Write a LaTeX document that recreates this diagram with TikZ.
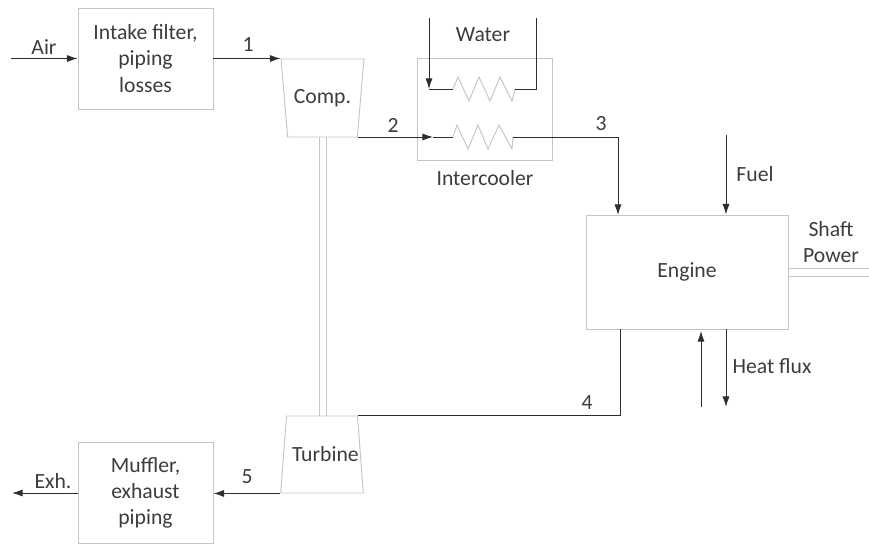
\documentclass[tikz,border=0pt]{standalone}
\usepackage{fontspec}
\usepackage{xcolor}
\usetikzlibrary{positioning,arrows.meta,shapes.geometric,calc}
\setmainfont{Carlito}
\definecolor{boxline}{HTML}{C4C4C4}
\definecolor{flowline}{HTML}{2E2E2E}
\definecolor{labeltext}{HTML}{3C3C3C}
\tikzset{
  unitbox/.style={draw=boxline,line width=0.8pt,align=center,inner sep=0pt,text=labeltext},
  comppart/.style={unitbox,trapezium,trapezium stretches=true,text width=60*0.03cm,minimum width=83*0.03cm,minimum height=78*0.03cm,trapezium left angle=72,trapezium right angle=72},
  flow/.style={draw=flowline,line width=0.8pt},
  flowarrow/.style={flow,-{Latex[length=9pt,width=6pt]}},
  shaftline/.style={draw=boxline,line width=0.8pt},
  lbl/.style={text=labeltext,inner sep=0pt,align=center}
}
\begin{document}
\begin{tikzpicture}[x=0.03cm,y=-0.03cm,font=\fontsize{18.5}{22.5}\selectfont]
  \useasboundingbox (0,0) rectangle (869,544);
  % units
  \node[unitbox,minimum width=135*0.03cm,minimum height=101*0.03cm] (intake) at (145.5,58.5) {Intake filter,\\piping\\losses};
  \node[unitbox,minimum width=135*0.03cm,minimum height=101*0.03cm] (muffler) at (145.5,493) {Muffler,\\exhaust\\piping};
  \node[comppart,shape border rotate=180] (comp) at (322.5,98) {Comp.};
  \node[comppart,minimum height=77*0.03cm] (turbine) at (322,454.5) {Turbine};
  \node[unitbox,minimum width=135*0.03cm,minimum height=102*0.03cm] (cooler) at (484.5,109) {};
  \node[unitbox,minimum width=202*0.03cm,minimum height=114*0.03cm] (engine) at (687,272) {Engine};

  % free ends
  \coordinate (airin) at (11,58.5);
  \coordinate (exhout) at (12,493);
  \coordinate (waterin) at (429,18);
  \coordinate (waterout) at (536,18);
  \coordinate (fuelin) at (726,135);
  \coordinate (heatin) at (701,407);
  \coordinate (heatout) at (726,407);
  \coordinate (waterl) at (453,89);
  \coordinate (waterr) at (515,89);
  \coordinate (chargel) at (453,137);
  \coordinate (charger) at (513,137);

  % coils
  \draw[boxline,line width=0.8pt] (waterl) -- (458,77) -- (469,101) -- (479,77) -- (490,101) -- (500,77) -- (512,101) -- (waterr);
  \draw[boxline,line width=0.8pt] (chargel) -- (457,125) -- (468,149) -- (478,125) -- (488,149) -- (499,125) -- (512,149) -- (charger);

  % flows
  \draw[flowarrow] (airin) -- (intake.west);
  \draw[flowarrow] (intake.east) -- (intake.east -| comp.bottom right corner);
  \draw[flowarrow] (chargel -| comp.top left corner) -- (433,137);
  \draw[flow] (433,137) -- (chargel);
  \draw[flowarrow] (charger) -| (618,215);
  \draw[flowarrow] (waterin) -- (429,89);
  \draw[flow] (429,89) -- (waterl);
  \draw[flow] (waterr) -| (waterout);
  \draw[flowarrow] (fuelin) -- (fuelin |- engine.north);
  \draw[flow] (620,329) |- (turbine.top right corner);
  \draw[flowarrow] (turbine.bottom left corner) -- (muffler.east |- turbine.bottom left corner);
  \draw[flowarrow] (muffler.west) -- (exhout);
  \draw[flowarrow] (heatin) -- (701,331);
  \draw[flowarrow] (726,329) -- (heatout);

  % shafts
  \draw[shaftline] (319,137) -- (319,416);
  \draw[shaftline] (326,137) -- (326,416);
  \draw[shaftline] (788,268) -- (869,268);
  \draw[shaftline] (788,276) -- (869,276);

  % labels
  \node[lbl] at (44,47) {Air};
  \node[lbl] at (248,45) {1};
  \node[lbl] at (393,125) {2};
  \node[lbl] at (601,124) {3};
  \node[lbl] at (587,403) {4};
  \node[lbl] at (247,477) {5};
  \node[lbl] at (53,481) {Exh.};
  \node[lbl] at (483,35) {Water};
  \node[lbl] at (485,178) {Intercooler};
  \node[lbl] at (755,174) {Fuel};
  \node[lbl] at (831,242) {Shaft\\Power};
  \node[lbl] at (772,366) {Heat flux};
\end{tikzpicture}
\end{document}
